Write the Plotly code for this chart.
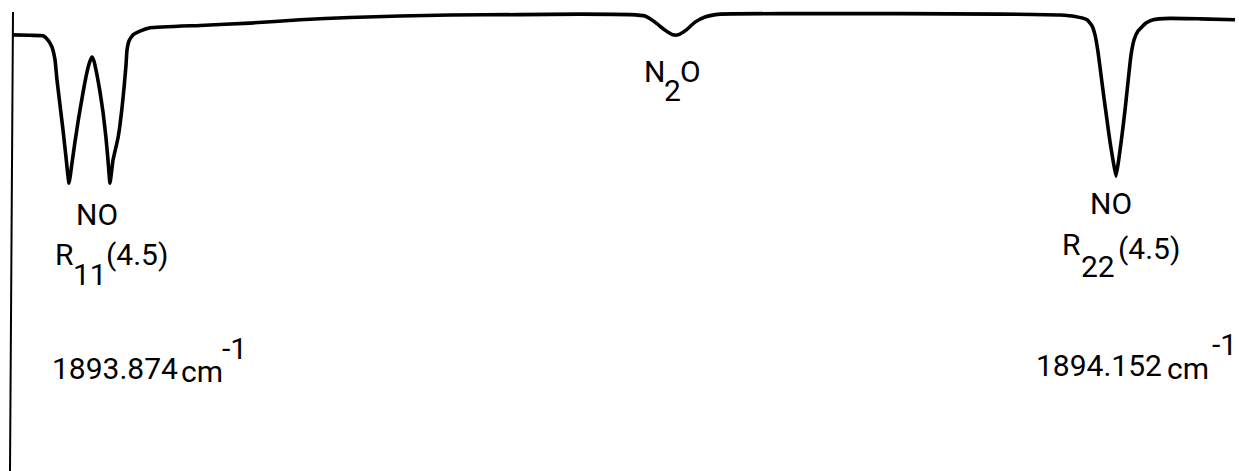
import plotly.graph_objects as go

# Recorder trace: scan position (chart units) and percent transmission
scan_pos = [12, 30, 43, 48, 52, 55, 57, 60, 63, 66, 69, 72, 75, 78, 81, 84, 87, 90, 92,
            94, 97, 100, 103, 106, 108, 110, 113, 116, 118, 120, 122, 124, 126, 127, 129,
            133, 140, 150, 200, 250, 300, 350, 400, 450, 520, 580, 630, 645, 655, 665,
            673, 678, 686, 695, 705, 720, 800, 900, 1000, 1060, 1075, 1087, 1092, 1095,
            1098, 1101, 1104, 1107, 1110, 1113, 1116, 1119, 1122, 1125, 1128, 1131, 1134,
            1138, 1146, 1153, 1170, 1200, 1235]
transmission = [92.6, 92.5, 92.4, 91.5, 90.0, 87.3, 83.0, 77.7, 72.4, 66.6, 61.1, 65.4,
                69.9, 74.1, 77.9, 81.5, 84.7, 87.0, 87.9, 87.0, 84.1, 80.5, 76.2, 70.7,
                66.0, 61.1, 66.0, 68.8, 70.7, 73.5, 77.1, 81.3, 86.2, 89.4, 91.3, 92.6,
                93.4, 94.1, 94.6, 95.1, 95.8, 96.3, 96.6, 96.8, 96.9, 97.0, 96.9, 96.6,
                95.3, 93.6, 92.6, 92.6, 93.6, 95.3, 96.4, 97.0, 97.1, 97.1, 97.0, 96.8,
                96.5, 95.8, 94.5, 92.6, 89.0, 84.1, 79.2, 74.5, 69.9, 66.0, 62.6, 66.5,
                71.3, 76.6, 82.6, 88.3, 91.5, 93.4, 95.1, 95.8, 96.1, 96.0, 95.8]

W, H = 1239, 471
FONT = "Roboto, Liberation Sans, sans-serif"
SIZE = 30


def y_of(px):
    # vertical placement in percent units from a distance below the top edge
    return (H - px) * 100.0 / H


# (text, x position, anchor, y centre from top)
labels = [
    ("N", 643, "left", 71), ("2", 663, "left", 90), ("O", 679, "left", 71),
    ("NO", 97, "center", 214),
    ("R", 64, "center", 254), ("11", 90, "center", 274), ("(4.5)", 137, "center", 254),
    ("NO", 1111, "center", 203),
    ("R", 1071, "center", 244), ("22", 1098, "center", 266), ("(4.5)", 1149, "center", 248),
    ("1893.874", 51, "left", 368), ("cm", 180, "left", 371), ("-1", 234, "center", 348),
    ("1894.152", 1035, "left", 365), ("cm", 1166, "left", 368), ("-1", 1224, "center", 344),
]

fig = go.Figure()
fig.add_trace(go.Scatter(
    x=scan_pos, y=transmission, mode="lines",
    line=dict(color="black", width=3.6, shape="spline", smoothing=0.4),
    hoverinfo="skip", showlegend=False,
))

annotations = [
    dict(x=xp, y=y_of(yc), text=t, showarrow=False, xanchor=anc, yanchor="middle",
         borderpad=0, font=dict(family=FONT, size=SIZE, color="black"))
    for t, xp, anc, yc in labels
]

fig.update_layout(
    width=W, height=H,
    margin=dict(l=0, r=0, t=0, b=0),
    paper_bgcolor="white", plot_bgcolor="white",
    xaxis=dict(range=[0, W], visible=False, fixedrange=True),
    yaxis=dict(range=[0, 100], visible=False, fixedrange=True),
    annotations=annotations,
    shapes=[dict(type="line", xref="x", yref="y", x0=10, y0=0, x1=13, y1=y_of(12),
                 line=dict(color="black", width=2))],
)

fig.write_html("out.html")
